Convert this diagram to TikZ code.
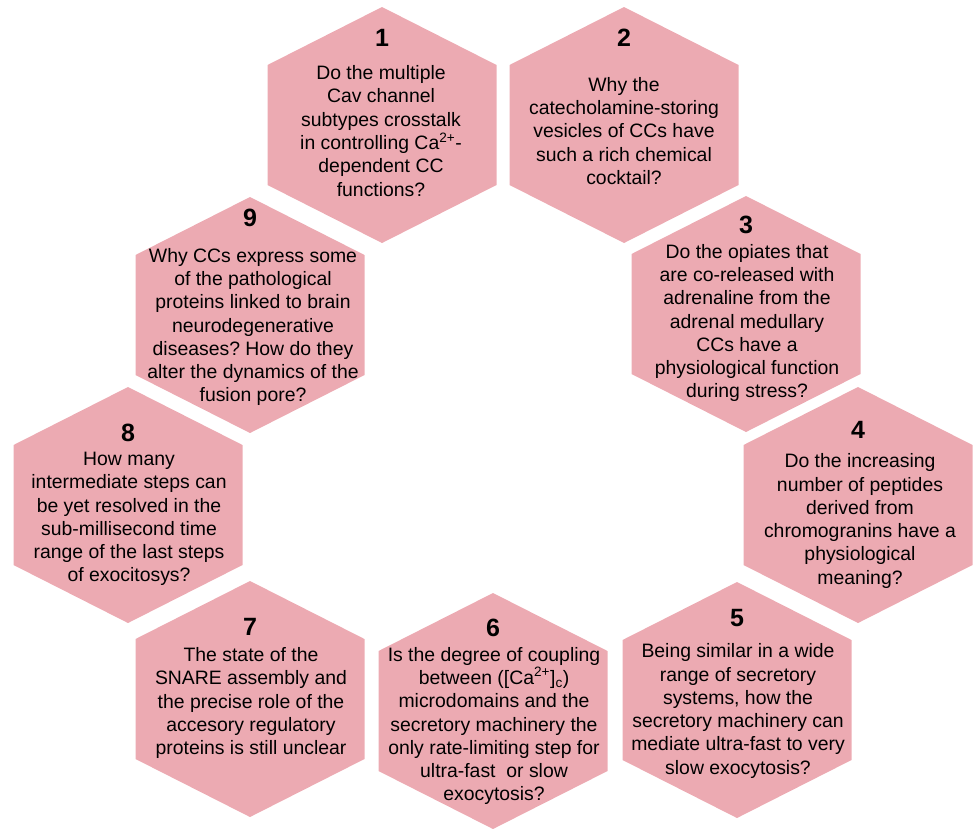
\documentclass[tikz,border=0pt]{standalone}
\usepackage{fontspec}
\setmainfont{Liberation Sans}
\frenchspacing
\definecolor{hexpink}{RGB}{236,170,178}
\tikzset{
  hexfill/.style={fill=hexpink, draw=none},
  qtext/.style={align=center, inner sep=0pt, font=\fontsize{19.4}{23.3}\selectfont\frenchspacing, text=black},
  qnum/.style={inner sep=0pt, font=\fontsize{25}{30}\selectfont\bfseries, text=black},
}
\newcommand{\hexat}[2]{%
  \fill[hexfill] (#1,#2-118) -- (#1+114.5,#2-60) -- (#1+114.5,#2+60) -- (#1,#2+118) -- (#1-114.5,#2+60) -- (#1-114.5,#2-60) -- cycle;}
\begin{document}
\begin{tikzpicture}[x=1pt,y=-1pt]
\useasboundingbox (0,0) rectangle (973,828);
% hexagons
\hexat{382}{125}
\hexat{624}{125}
\hexat{746}{314}
\hexat{858}{505}
\hexat{737}{700}
\hexat{493}{711}
\hexat{250}{699}
\hexat{128}{505}
\hexat{250}{315}
% numbers
\node[qnum] (n1) at (382,38) {1};
\node[qnum] (n2) at (624,38) {2};
\node[qnum] (n3) at (746,225) {3};
\node[qnum] (n4) at (858,430) {4};
\node[qnum] (n5) at (737,618) {5};
\node[qnum] (n6) at (493,628) {6};
\node[qnum] (n7) at (250,627) {7};
\node[qnum] (n8) at (128,433) {8};
\node[qnum] (n9) at (250,218) {9};
% questions
\node[qtext] (q1) at (381,131) {Do the multiple\\Cav channel\\subtypes crosstalk\\in controlling Ca\textsuperscript{2+}-\\dependent CC\\functions?};
\node[qtext] (q2) at (624,131) {Why the\\catecholamine-storing\\vesicles of CCs have\\such a rich chemical\\cocktail?};
\node[qtext] (q3) at (747,323) {Do the opiates that\\are co-released with\\adrenaline from the\\adrenal medullary\\CCs have a\\physiological function\\during stress?};
\node[qtext] (q4) at (860,521) {Do the increasing\\number of peptides\\derived from\\chromogranins have a\\physiological\\meaning?};
\node[qtext] (q5) at (738,711) {Being similar in a wide\\range of secretory\\systems, how the\\secretory machinery can\\mediate ultra-fast to very\\slow exocytosis?};
\node[qtext] (q6) at (494,726) {Is the degree of coupling\\between ([Ca\textsuperscript{2+}]\textsubscript{c})\\microdomains and the\\secretory machinery the\\only rate-limiting step for\\ultra-fast\ \ or slow\\exocytosis?};
\node[qtext] (q7) at (251,703) {The state of the\\SNARE assembly and\\the precise role of the\\accesory regulatory\\proteins is still unclear};
\node[qtext] (q8) at (129,519) {How many\\intermediate steps can\\be yet resolved in the\\sub-millisecond time\\range of the last steps\\of exocitosys?};
\node[qtext] (q9) at (253,327) {Why CCs express some\\of the pathological\\proteins linked to brain\\neurodegenerative\\diseases? How do they\\alter the dynamics of the\\fusion pore?};
\end{tikzpicture}
\end{document}
